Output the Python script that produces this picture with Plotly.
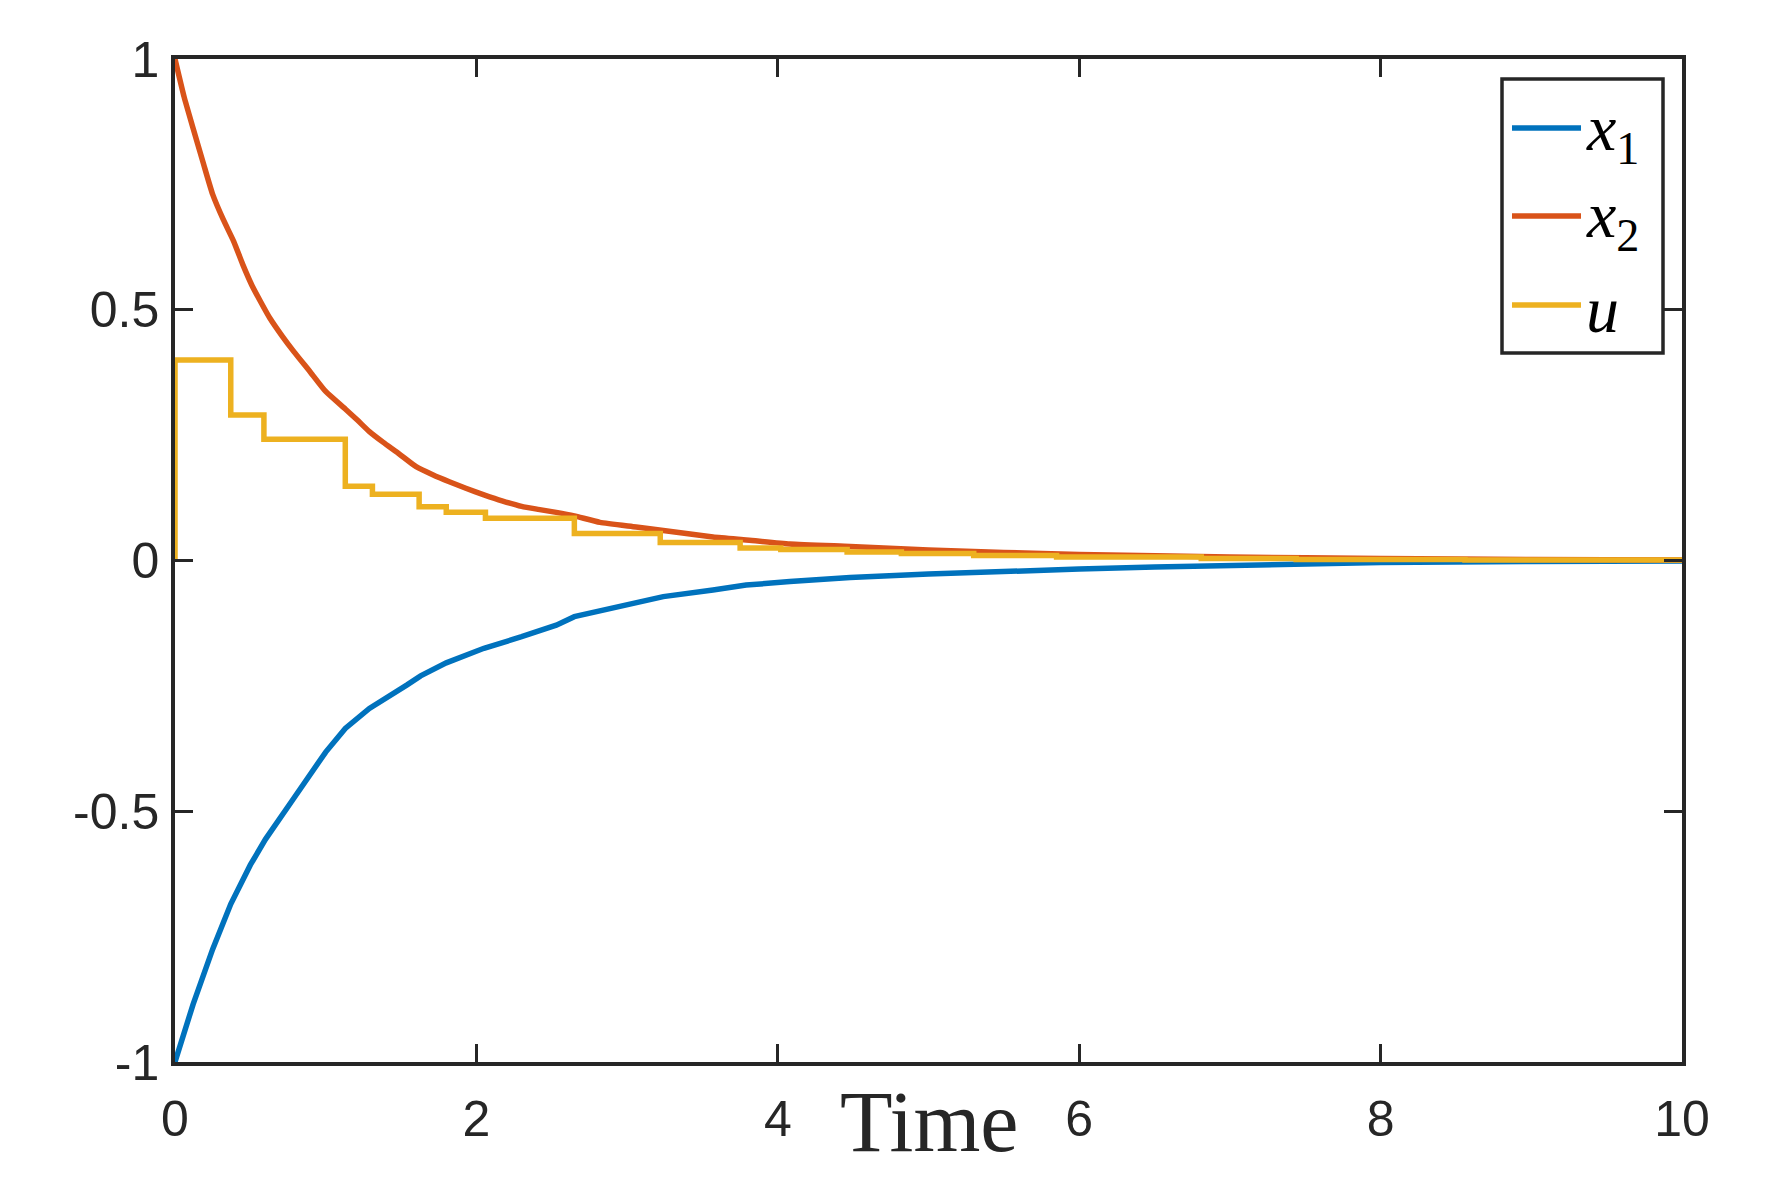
import plotly.graph_objects as go

# ---- data ----
t_x1 = [0, 0.12, 0.25, 0.37, 0.5, 0.6, 0.77, 1.0, 1.13, 1.29, 1.54, 1.63, 1.80, 2.05, 2.30, 2.53,
        2.65, 2.82, 3.06, 3.24, 3.57, 3.79, 4.08, 4.48, 5.0, 5.5, 6.0, 6.5, 7.0, 7.5, 8.0, 9.0, 10.0]
x1 = [-1.0, -0.885, -0.775, -0.685, -0.607, -0.556, -0.482, -0.382, -0.335, -0.295, -0.248, -0.230,
      -0.204, -0.175, -0.152, -0.129, -0.112, -0.101, -0.085, -0.072, -0.059, -0.049, -0.042, -0.034,
      -0.027, -0.021, -0.017, -0.013, -0.010, -0.006, -0.004, -0.002, -0.001]

t_x2 = [0, 0.06, 0.12, 0.19, 0.25, 0.32, 0.39, 0.45, 0.51, 0.57, 0.63, 0.71, 0.79, 0.9, 1.0, 1.13,
        1.21, 1.29, 1.38, 1.49, 1.60, 1.71, 1.82, 1.93, 2.05, 2.17, 2.30, 2.41, 2.53, 2.65, 2.82,
        3.06, 3.24, 3.57, 3.79, 4.08, 4.48, 5.0, 5.5, 6.0, 7.0, 8.0, 9.0, 10.0]
x2 = [1.0, 0.925, 0.862, 0.79, 0.73, 0.68, 0.636, 0.59, 0.549, 0.515, 0.483, 0.448, 0.416, 0.375,
      0.337, 0.302, 0.28, 0.257, 0.236, 0.212, 0.187, 0.171, 0.157, 0.144, 0.131, 0.119, 0.108,
      0.102, 0.096, 0.089, 0.076, 0.067, 0.060, 0.047, 0.041, 0.033, 0.028, 0.021, 0.016, 0.012,
      0.007, 0.004, 0.002, 0.001]

t_u = [0, 0, 0.37, 0.59, 1.13, 1.31, 1.62, 1.80, 2.06, 2.65, 3.22, 3.75, 4.02, 4.46, 4.82, 5.30,
       5.85, 6.81, 7.44, 8.56, 10.0]
u = [0, 0.40, 0.29, 0.242, 0.148, 0.132, 0.107, 0.096, 0.084, 0.054, 0.036, 0.025, 0.022, 0.017,
     0.014, 0.010, 0.007, 0.004, 0.002, 0.001, 0.001]

names = ["<i>x</i><sub>1</sub>", "<i>x</i><sub>2</sub>", "<i>u</i>"]
colors = ["#0072BD", "#D95319", "#EDB120"]
x_ticks = [0, 2, 4, 6, 8, 10]
y_ticks = [-1, -0.5, 0, 0.5, 1]
y_tick_text = ["-1", "-0.5", "0", "0.5", "1"]

W, H = 1771, 1182
L, R, T, B = 175, 89, 59, 120
axc = "#262626"

fig = go.Figure()
fig.add_trace(go.Scatter(x=t_x1, y=x1, mode="lines", line=dict(color=colors[0], width=5.5),
                         name=names[0], showlegend=False))
fig.add_trace(go.Scatter(x=t_x2, y=x2, mode="lines", line=dict(color=colors[1], width=5.5, shape="spline", smoothing=0.5),
                         name=names[1], showlegend=False))
fig.add_trace(go.Scatter(x=t_u, y=u, mode="lines", line=dict(color=colors[2], width=5.5, shape="hv"),
                         name=names[2], showlegend=False))

pw = W - L - R
ph = H - T - B


def px2paper(px, py):
    return (px - L) / pw, (H - B - py) / ph


tickfont = dict(family="Liberation Sans, Arial, sans-serif", size=50, color=axc)
fig.update_layout(
    width=W, height=H,
    margin=dict(l=L, r=R, t=T, b=B),
    paper_bgcolor="white", plot_bgcolor="white",
    xaxis=dict(range=[0, 10], tickvals=x_ticks, ticks="inside", ticklen=18, tickwidth=3,
               tickcolor=axc, showline=True, linewidth=3.5, linecolor=axc, mirror="ticks",
               showgrid=False, zeroline=False, tickfont=tickfont, ticklabelstandoff=10),
    yaxis=dict(range=[-1, 1], tickvals=y_ticks, ticktext=y_tick_text, ticks="inside", ticklen=18,
               tickwidth=3, tickcolor=axc, showline=True, linewidth=3.5, linecolor=axc, mirror="ticks",
               showgrid=False, zeroline=False, tickfont=tickfont, ticklabelstandoff=2),
    showlegend=False,
)

# x-axis title
tx, ty = px2paper(932, 1122)
fig.add_annotation(text="Time", xref="paper", yref="paper", x=0.5, y=ty, xanchor="center",
                   yanchor="middle", showarrow=False,
                   font=dict(family="Liberation Serif, serif", size=86, color=axc))

# legend (drawn manually to match the reference's long sample lines)
bx0, by0 = px2paper(1502, 353)
bx1, by1 = px2paper(1663, 79)
fig.add_shape(type="rect", xref="paper", yref="paper", x0=bx0, y0=by0, x1=bx1, y1=by1,
              line=dict(color=axc, width=3.5), fillcolor="white", layer="above")
rows = [128, 216, 305]
for name, col, ry in zip(names, colors, rows):
    lx0, ly = px2paper(1512, ry)
    lx1, _ = px2paper(1581, ry)
    fig.add_shape(type="line", xref="paper", yref="paper", x0=lx0, x1=lx1, y0=ly, y1=ly,
                  line=dict(color=col, width=5.5), layer="above")
    txx, _ = px2paper(1584, ry)
    _, tyy = px2paper(0, ry + 4)
    fig.add_annotation(text=name, xref="paper", yref="paper", x=txx, y=tyy, xanchor="left",
                       yanchor="middle", showarrow=False,
                       font=dict(family="Liberation Serif, serif", size=66, color="black"))

fig.write_html("out.html")
